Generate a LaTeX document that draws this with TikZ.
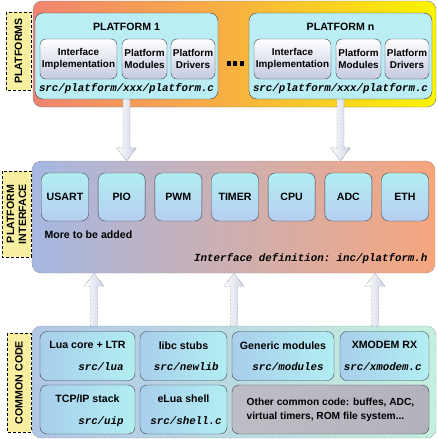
\documentclass[tikz,border=0pt]{standalone}
\usepackage{fontspec}
\setmainfont{Liberation Sans}
\setsansfont{Liberation Sans}
\setmonofont{Liberation Mono}
\usepackage{tikz}
\usetikzlibrary{calc}

\definecolor{sideyellow}{RGB}{248,240,160}
\definecolor{platred}{RGB}{240,132,112}
\definecolor{platorange}{RGB}{248,178,64}
\definecolor{platyellow}{RGB}{252,244,0}
\definecolor{platcyan}{RGB}{186,238,244}
\definecolor{subgray}{RGB}{196,202,224}
\definecolor{ifblue}{RGB}{166,184,226}
\definecolor{ifsalmon}{RGB}{246,166,126}
\definecolor{nodecyan}{RGB}{178,238,242}
\definecolor{nodeblue}{RGB}{182,206,240}
\definecolor{comblue}{RGB}{178,198,230}
\definecolor{comgreen}{RGB}{196,240,222}
\definecolor{comnodeblue}{RGB}{168,206,236}
\definecolor{othergray}{RGB}{178,178,188}
\definecolor{arrowgray}{RGB}{204,210,228}
\definecolor{edgegray}{RGB}{64,64,72}

\newcommand{\boxtitlefont}{\sffamily\bfseries\fontsize{10.6}{12}\selectfont}
\newcommand{\boxsubfont}{\sffamily\bfseries\fontsize{9.9}{11.5}\selectfont}
\newcommand{\boxpathfont}{\ttfamily\bfseries\itshape\fontsize{10.8}{12}\selectfont}

\newcommand{\hollowarrow}[2]{%
  \draw[hollow] let \p1=(#1), \p2=(#2), \n1={ifthenelse(\y2>\y1,1,-1)} in
    (\x1-3.5pt,\y1) -- (\x1-3.5pt,\y2-\n1*13pt) -- (\x1-10pt,\y2-\n1*13pt) -- (\x1,\y2)
    -- (\x1+10pt,\y2-\n1*13pt) -- (\x1+3.5pt,\y2-\n1*13pt) -- (\x1+3.5pt,\y1) -- cycle;}

\begin{document}
\begin{tikzpicture}[x=1pt,y=-1pt,
  sidelabel/.style={draw=black, densely dashed, fill=sideyellow, rotate=90, align=center, font=\boxtitlefont, inner sep=0pt},
  outerbox/.style={draw=edgegray, densely dotted, rounded corners=9pt},
  platbox/.style={draw=edgegray, rounded corners=8pt, fill=platcyan, minimum width=183pt, minimum height=86pt},
  subbox/.style={draw=edgegray, rounded corners=6pt, top color=white, bottom color=subgray, minimum height=40pt, align=center, font=\boxsubfont, inner sep=1pt},
  ifbox/.style={draw=edgegray, rounded corners=7pt, top color=nodecyan, bottom color=nodeblue, minimum width=47pt, minimum height=48pt, font=\boxtitlefont},
  cbox/.style={draw=edgegray, rounded corners=7pt, left color=comnodeblue, right color=nodecyan, minimum height=49pt},
  ctitle/.style={font=\boxtitlefont},
  cpath/.style={font=\boxpathfont, anchor=base east},
  hollow/.style={draw=edgegray, densely dotted, left color=white, right color=arrowgray}]
\useasboundingbox (0,0) rectangle (437,439);

\node[draw=edgegray!70, rounded corners=9pt, left color=platred, right color=platyellow, middle color=platorange, minimum width=403pt, minimum height=106pt] (platforms) at (234.5,54) {};
\node[sidelabel, minimum width=78pt, minimum height=25pt] (platlbl) at (18.5,51) {PLATFORMS};

\node[platbox] (plat1) at (126.5,56) {};
\node[font=\boxtitlefont] (plat1title) at (126.5,27) {PLATFORM 1};
\node[subbox, minimum width=77pt] (impl1) at (78.5,59) {Interface\\Implementation};
\node[subbox, minimum width=45pt] (mod1) at (144.5,59) {Platform\\Modules};
\node[subbox, minimum width=44pt] (drv1) at (193,59) {Platform\\Drivers};
\node[font=\boxpathfont] (path1) at (126.5,89) {src/platform/xxx/platform.c};

\foreach \dx in {228.5,235,241.5}
  \fill (\dx-2,61) rectangle (\dx+2,65.5);

\node[platbox] (platn) at (340.5,56) {};
\node[font=\boxtitlefont] (platntitle) at (340.5,27) {PLATFORM n};
\node[subbox, minimum width=77pt] (impln) at (292.5,59) {Interface\\Implementation};
\node[subbox, minimum width=45pt] (modn) at (358.5,59) {Platform\\Modules};
\node[subbox, minimum width=44pt] (drvn) at (407,59) {Platform\\Drivers};
\node[font=\boxpathfont] (pathn) at (340.5,89) {src/platform/xxx/platform.c};

\node[outerbox, left color=ifblue, right color=ifsalmon, minimum width=403pt, minimum height=112pt] (iface) at (233.5,217) {};
\node[sidelabel, minimum width=86pt, minimum height=29pt] (iflbl) at (16.5,214) {PLATFORM\\INTERFACE};
\foreach \name [count=\i from 0] in {USART,PIO,PWM,TIMER,CPU,ADC,ETH}
  \node[ifbox] (\name) at ({65+56.67*\i},197) {\name};
\node[font=\boxtitlefont, anchor=west] (more) at (41,235) {More to be added};
\node[font=\boxpathfont, anchor=east] (ifdef) at (431,259) {Interface definition: inc/platform.h};

\node[outerbox, left color=comblue, right color=comgreen, minimum width=404pt, minimum height=112pt] (common) at (234,382) {};
\node[sidelabel, minimum width=99pt, minimum height=24pt] (comlbl) at (19,382.5) {COMMON CODE};

\node[cbox, minimum width=95pt] (lua) at (87.5,356) {};
\node[ctitle] at ($(lua.north)+(0,14)$) {Lua core + LTR};
\node[cpath] at ($(lua.south east)+(-8,-10)$) {src/lua};
\node[cbox, minimum width=87pt] (libc) at (183.5,356) {};
\node[ctitle] at ($(libc.north)+(0,14)$) {libc stubs};
\node[cpath] at ($(libc.south east)+(-5,-10)$) {src/newlib};
\node[cbox, minimum width=102pt] (generic) at (283,356) {};
\node[ctitle] at ($(generic.north)+(0,14)$) {Generic modules};
\node[cpath] at ($(generic.south east)+(-7,-10)$) {src/modules};
\node[cbox, minimum width=89pt] (xmodem) at (384.5,356) {};
\node[ctitle] at ($(xmodem.north)+(0,14)$) {XMODEM RX};
\node[cpath] at ($(xmodem.south east)+(-4,-10)$) {src/xmodem.c};

\node[cbox, minimum width=95pt] (uip) at (87.5,409.5) {};
\node[ctitle] at ($(uip.north)+(0,14)$) {TCP/IP stack};
\node[cpath] at ($(uip.south east)+(-8,-10)$) {src/uip};
\node[cbox, minimum width=87pt] (shell) at (183.5,409.5) {};
\node[ctitle] at ($(shell.north)+(0,14)$) {eLua shell};
\node[cpath] at ($(shell.south east)+(-2,-10)$) {src/shell.c};
\node[cbox, left color=othergray!85!white, right color=othergray, minimum width=197pt, align=left, font=\sffamily\bfseries\fontsize{10.2}{14}\selectfont] (other) at (330.5,409.5) {Other common code: buffes, ADC,\\virtual timers, ROM file system...};

\hollowarrow{plat1.south}{plat1.south |- iface.north}
\hollowarrow{platn.south}{platn.south |- iface.north}

\coordinate (up1) at (94,326);
\coordinate (up2) at (234,326);
\coordinate (up3) at (375,326);
\hollowarrow{up1}{up1 |- iface.south}
\hollowarrow{up2}{up2 |- iface.south}
\hollowarrow{up3}{up3 |- iface.south}
\end{tikzpicture}
\end{document}
